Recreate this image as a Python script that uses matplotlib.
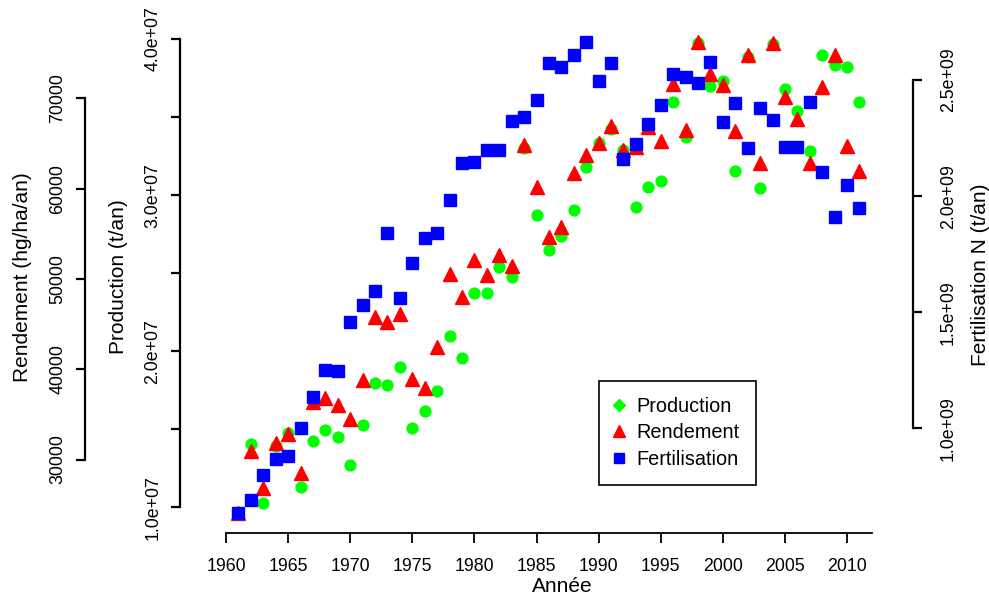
import numpy as np
import matplotlib.pyplot as plt
from matplotlib.lines import Line2D

plt.rcParams['font.family'] = ['Liberation Sans', 'DejaVu Sans']

# series, 1961-2011
annee = np.arange(1961, 2012)
production_mt = [9.65, 14.06, 10.29, 13.93, 14.78, 11.28, 14.27, 14.95, 14.48, 12.71,
                 15.25, 17.94, 17.83, 18.97, 15.06, 16.19, 17.47, 20.97, 19.55, 23.75,
                 23.75, 25.37, 24.75, 33.00, 28.73, 26.48, 27.38, 29.05, 31.82, 33.36,
                 34.22, 32.89, 29.22, 30.54, 30.90, 35.98, 33.74, 39.76, 37.01, 37.33,
                 31.56, 38.87, 30.44, 39.68, 36.80, 35.39, 32.83, 38.99, 38.33, 38.23,
                 35.98]
rendement = [24110, 30975, 26810, 31790, 32820, 28470, 36400, 36840, 36040, 34450,
             38800, 45810, 45260, 46080, 38880, 37950, 42430, 50540, 48030, 52090,
             50430, 52650, 51430, 64830, 60180, 54670, 55710, 61690, 63720, 65020,
             66930, 64270, 64610, 66820, 65300, 71580, 66490, 76270, 72690, 71470,
             66410, 74790, 62800, 76090, 70110, 67710, 62800, 71280, 74790, 64720,
             61980]
fertilisation_gt = [0.637, 0.691, 0.799, 0.867, 0.881, 1.000, 1.136, 1.251, 1.245, 1.459,
                    1.531, 1.593, 1.840, 1.560, 1.713, 1.818, 1.840, 1.983, 2.141, 2.148,
                    2.199, 2.199, 2.325, 2.339, 2.413, 2.572, 2.557, 2.609, 2.665, 2.494,
                    2.572, 2.161, 2.224, 2.312, 2.394, 2.526, 2.514, 2.488, 2.576, 2.319,
                    2.401, 2.206, 2.381, 2.328, 2.211, 2.211, 2.407, 2.104, 1.911, 2.047,
                    1.950]
production = np.array(production_mt) * 1e6
fertilisation = np.array(fertilisation_gt) * 1e9

prod_ticks = [1e7, 1.5e7, 2e7, 2.5e7, 3e7, 3.5e7, 4e7]
prod_labels = ['1.0e+07', '', '2.0e+07', '', '3.0e+07', '', '4.0e+07']
rend_ticks = [30000, 40000, 50000, 60000, 70000]
fert_ticks = [1.0e9, 1.5e9, 2.0e9, 2.5e9]
fert_labels = ['1.0e+09', '1.5e+09', '2.0e+09', '2.5e+09']
x_ticks = list(range(1960, 2011, 5))

W, H = 989, 596
fig = plt.figure(figsize=(W / 100, H / 100), dpi=100)
L, R, T, B = 213.6, 884.3, 23.2, 531.5
ax_p = fig.add_axes([L / W, 1 - B / H, (R - L) / W, (B - T) / H])
ax_r = ax_p.twinx()
ax_f = ax_p.twinx()

def px(n):
    return n * 0.72

tick_font = 12.8
lw = 1.6
for ax in (ax_p, ax_r, ax_f):
    for s in ax.spines.values():
        s.set_visible(False)
    ax.set_xlim(1959, 2013)
    ax.patch.set_visible(False)

ax_p.plot(annee, production, ls='none', marker='o', ms=7.8, color='#00ff00', mec='#00ff00')
ax_r.plot(annee, rendement, ls='none', marker='^', ms=9.5, color='#ff0000', mec='#ff0000')
ax_f.plot(annee, fertilisation, ls='none', marker='s', ms=8.3, color='#0000ff', mec='#0000ff')

ax_p.set_ylim(8.45e6, 41.01e6)
ax_r.set_ylim(22027, 78316)
ax_f.set_ylim(0.5556e9, 2.7446e9)

# x axis
ax_p.spines['bottom'].set_visible(True)
ax_p.spines['bottom'].set_position(('outward', px(1.5)))
ax_p.spines['bottom'].set_bounds(1960, 2012)
ax_p.spines['bottom'].set_linewidth(1.3)
ax_p.set_xticks(x_ticks)
ax_p.set_xticklabels([str(x) for x in x_ticks])
ax_p.tick_params(axis='x', length=px(10), width=1.3, pad=10.5, labelsize=tick_font)

# production, inner left axis
sp = ax_p.spines['left']
sp.set_visible(True)
sp.set_position(('outward', px(L - 180)))
sp.set_bounds(1e7, 4e7)
sp.set_linewidth(lw)
ax_p.set_yticks(prod_ticks)
ax_p.set_yticklabels(prod_labels, rotation=90, va='center')
ax_p.tick_params(axis='y', length=px(9), width=lw, pad=7, labelsize=tick_font)

# rendement, outer left axis
ax_r.yaxis.set_ticks_position('left')
sp = ax_r.spines['left']
sp.set_visible(True)
sp.set_position(('outward', px(L - 85)))
sp.set_bounds(30000, 70000)
sp.set_linewidth(lw)
ax_r.set_yticks(rend_ticks)
ax_r.set_yticklabels([str(t) for t in rend_ticks], rotation=90, va='center')
ax_r.tick_params(axis='y', length=px(9), width=lw, pad=7, labelsize=tick_font)

# fertilisation, right axis
sp = ax_f.spines['right']
sp.set_visible(True)
sp.set_position(('outward', px(913.3 - R)))
sp.set_bounds(1.0e9, 2.5e9)
sp.set_linewidth(lw)
ax_f.set_yticks(fert_ticks)
ax_f.set_yticklabels(fert_labels, rotation=90, va='center')
ax_f.tick_params(axis='y', length=px(9), width=lw, pad=12.5, labelsize=tick_font)

title_font = 15
fig.text(562 / W, 1 - 586 / H, 'Année', ha='center', va='center', fontsize=title_font)
fig.text(119 / W, 1 - 277 / H, 'Production (t/an)', ha='center', va='center',
         rotation=90, fontsize=title_font)
fig.text(23 / W, 1 - 277 / H, 'Rendement (hg/ha/an)', ha='center', va='center',
         rotation=90, fontsize=title_font)
fig.text(980 / W, 1 - 275 / H, 'Fertilisation N (t/an)', ha='center', va='center',
         rotation=90, fontsize=title_font)

handles = [Line2D([], [], ls='none', marker='D', ms=6, color='#00ff00'),
           Line2D([], [], ls='none', marker='^', ms=8, color='#ff0000'),
           Line2D([], [], ls='none', marker='s', ms=7, color='#0000ff')]
leg = ax_f.legend(handles, ['Production', 'Rendement', 'Fertilisation'],
                  loc='upper left', bbox_to_anchor=(599.3 / W, 1 - 381 / H),
                  bbox_transform=fig.transFigure, frameon=True, fancybox=False,
                  edgecolor='black', framealpha=1, borderaxespad=0, borderpad=0.82,
                  labelspacing=0.36, handlelength=0.3, handletextpad=0.76,
                  fontsize=14.3)
leg.get_frame().set_linewidth(1.2)

fig.savefig('out.png', dpi=100)
